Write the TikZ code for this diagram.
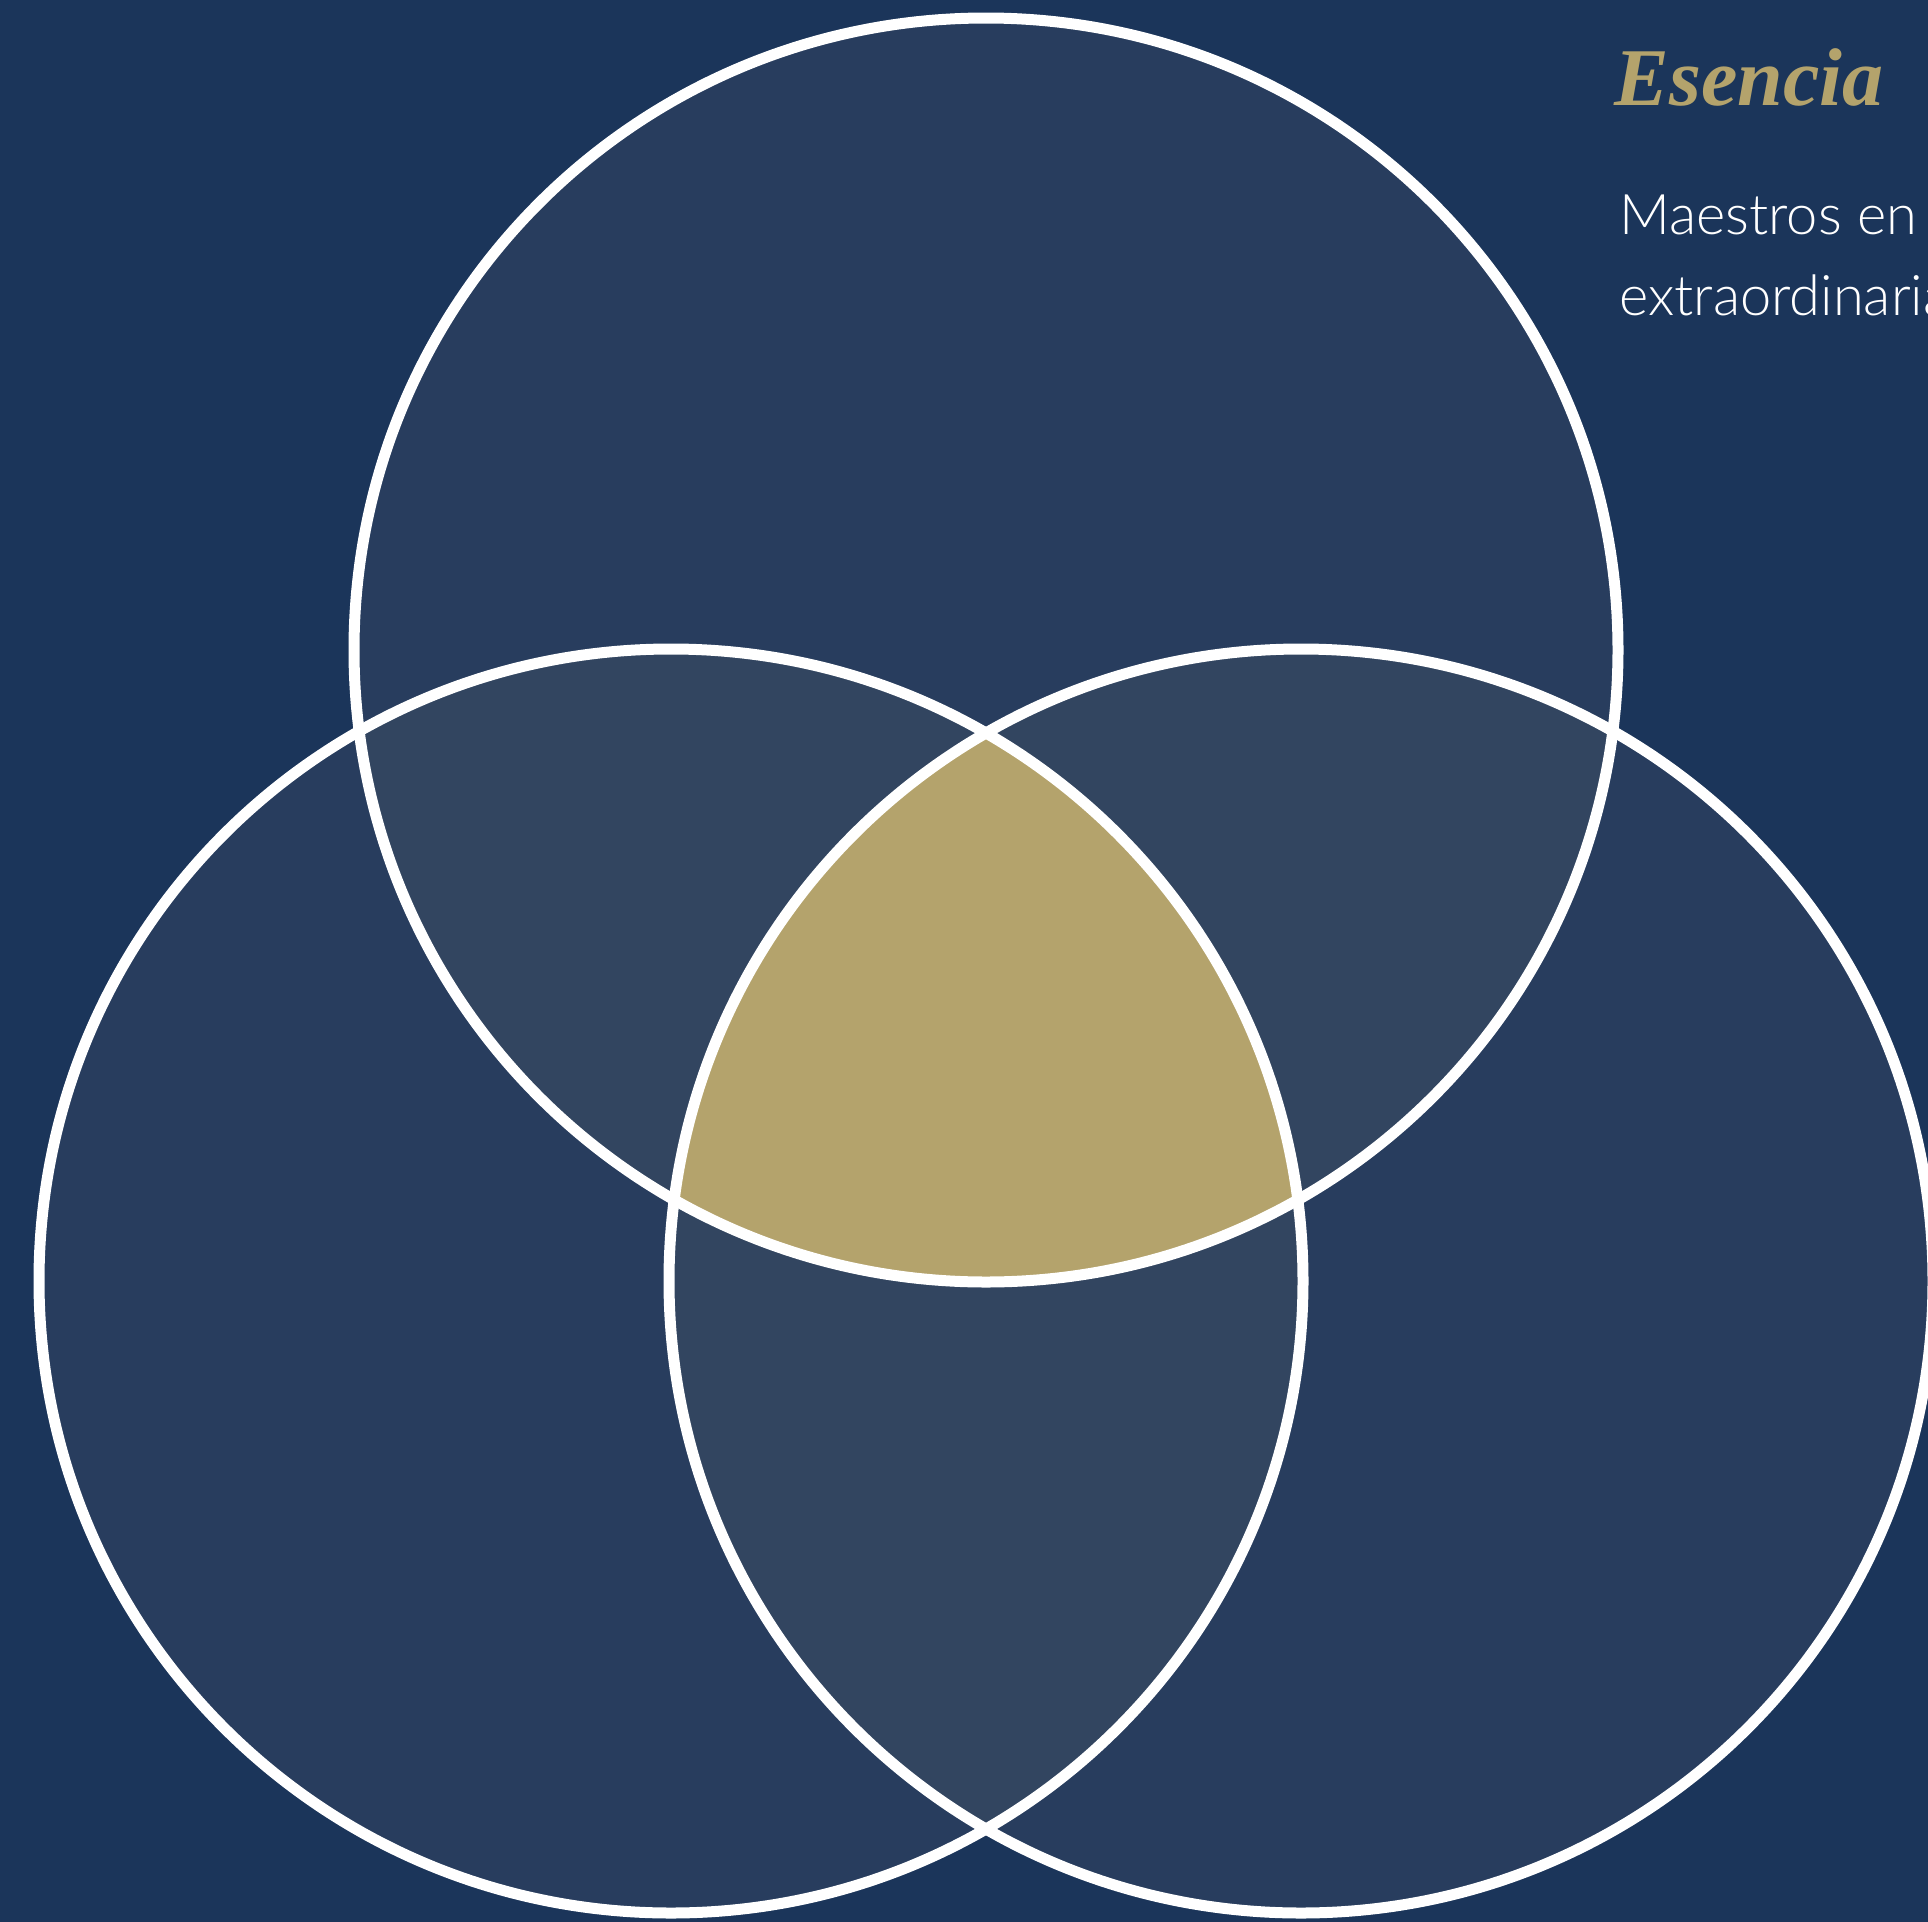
\documentclass[tikz,border=0pt]{standalone}
\usepackage{fontspec}
\newfontfamily\titlefont{Liberation Serif}
\newfontfamily\bodyfont{Lato Light}
\definecolor{bg}{HTML}{1B355A}
\definecolor{onefill}{HTML}{283D5E}
\definecolor{twofill}{HTML}{324560}
\definecolor{goldfill}{HTML}{B4A36C}
\tikzset{
  ring/.style={draw=white, line width=5.5pt},
  single/.style={fill=onefill},
  double/.style={fill=twofill},
  triple/.style={fill=goldfill},
  titletext/.style={anchor=base west, inner sep=0pt, text=goldfill, font=\titlefont\bfseries\itshape\fontsize{41}{48}\selectfont},
  bodytext/.style={anchor=base west, inner sep=0pt, text=white, font=\bodyfont\fontsize{28}{34}\selectfont}
}
\begin{document}
\begin{tikzpicture}[x=0.5pt,y=-0.5pt]
\def\rad{316pt}
\path[use as bounding box, fill=bg] (0,0) rectangle (1928,1922);
\coordinate (T) at (986,650);
\coordinate (L) at (671,1281);
\coordinate (Rt) at (1301,1281);
% single regions
\fill[single] (T) circle[radius=\rad];
\fill[single] (L) circle[radius=\rad];
\fill[single] (Rt) circle[radius=\rad];
% double overlaps
\begin{scope}
  \clip (T) circle[radius=\rad];
  \fill[double] (L) circle[radius=\rad];
  \fill[double] (Rt) circle[radius=\rad];
\end{scope}
\begin{scope}
  \clip (L) circle[radius=\rad];
  \fill[double] (Rt) circle[radius=\rad];
\end{scope}
% triple overlap
\begin{scope}
  \clip (T) circle[radius=\rad];
  \clip (L) circle[radius=\rad];
  \fill[triple] (Rt) circle[radius=\rad];
\end{scope}
% outlines
\draw[ring] (T) circle[radius=\rad];
\draw[ring] (L) circle[radius=\rad];
\draw[ring] (Rt) circle[radius=\rad];
% text
\node[titletext] (title) at (1614,105) {Esencia};
\node[bodytext] (line1) at (1619,234) {Maestros en c};
\node[bodytext] (line2) at (1619,315) {extraordinaria};
\end{tikzpicture}
\end{document}
